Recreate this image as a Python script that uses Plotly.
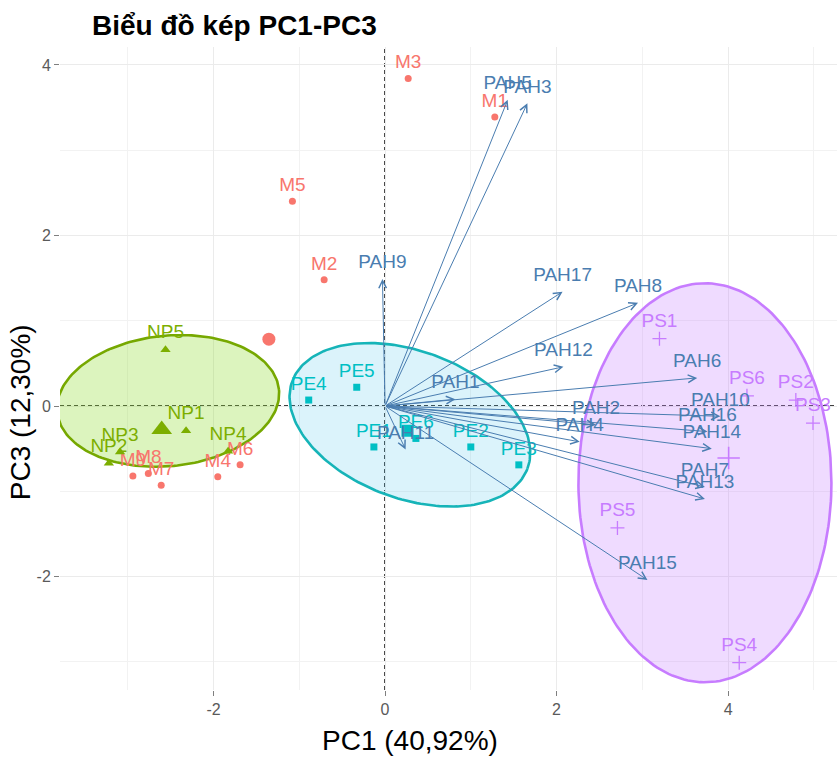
import numpy as np
import plotly.graph_objects as go

# ---------------- data ----------------
m_names = ["M1", "M2", "M3", "M4", "M5", "M6", "M7", "M8", "M9"]
m_pc1 = [1.28, -0.71, 0.27, -1.95, -1.08, -1.69, -2.61, -2.76, -2.94]
m_pc3 = [3.39, 1.48, 3.84, -0.83, 2.40, -0.69, -0.93, -0.79, -0.82]

np_names = ["NP1", "NP2", "NP3", "NP4", "NP5"]
np_pc1 = [-2.32, -3.22, -3.09, -1.83, -2.56]
np_pc3 = [-0.29, -0.67, -0.54, -0.53, 0.66]

pe_names = ["PE1", "PE2", "PE3", "PE4", "PE5", "PE6"]
pe_pc1 = [-0.13, 1.00, 1.56, -0.89, -0.33, 0.36]
pe_pc3 = [-0.48, -0.48, -0.69, 0.07, 0.22, -0.38]

ps_names = ["PS1", "PS2", "PS3", "PS4", "PS5", "PS6"]
ps_pc1 = [3.20, 4.79, 4.99, 4.13, 2.71, 4.22]
ps_pc3 = [0.79, 0.07, -0.20, -3.01, -1.43, 0.12]

pah_names = ["PAH1", "PAH2", "PAH3", "PAH4", "PAH5", "PAH6", "PAH7", "PAH8", "PAH9",
             "PAH10", "PAH11", "PAH12", "PAH13", "PAH14", "PAH15", "PAH16", "PAH17"]
pah_pc1 = [0.82, 2.46, 1.66, 2.27, 1.43, 3.64, 3.73, 2.95, -0.03,
           3.91, 0.24, 2.08, 3.73, 3.81, 3.06, 3.76, 2.07]
pah_pc3 = [0.08, -0.22, 3.55, -0.42, 3.59, 0.33, -0.95, 1.21, 1.49,
           -0.12, -0.51, 0.46, -1.09, -0.50, -2.04, -0.30, 1.34]

tick_vals = [-2, 0, 2, 4]
tick_text = ["-2", "0", "2", "4"]

# concentration ellipses (centre x, centre y, semi-axis a, semi-axis b, angle deg)
ell_groups = ["NP", "PE", "PS"]
ell_cx = [-2.53, 0.29, 3.73]
ell_cy = [0.06, -0.22, -0.90]
ell_a = [1.30, 1.464, 1.475]
ell_b = [0.765, 0.864, 2.34]
ell_ang = [5.9, -20.6, 0.0]

# ---------------- styles ----------------
colors = {"M": "#F8766D", "NP": "#7CAE00", "PE": "#00BFC4", "PS": "#C77CFF"}
line_cols = {"NP": "#76A800", "PE": "#16B4B8", "PS": "#C77CFF"}
fills = {"NP": "rgba(140,220,40,0.30)", "PE": "rgba(40,185,230,0.17)", "PS": "rgba(199,124,255,0.28)"}
symbols = {"M": "circle", "NP": "triangle-up", "PE": "square", "PS": "cross-thin"}
sizes = {"M": 7, "NP": 9, "PE": 7, "PS": 10}
mean_sizes = {"M": 13, "NP": 18, "PE": 12, "PS": 16}
arrow_col = "#4A7DB0"
FONT = "Liberation Sans, Arial, sans-serif"

groups = {
    "M": (m_names, m_pc1, m_pc3),
    "NP": (np_names, np_pc1, np_pc3),
    "PE": (pe_names, pe_pc1, pe_pc3),
    "PS": (ps_names, ps_pc1, ps_pc3),
}

fig = go.Figure()

# ellipses
t = np.linspace(0, 2 * np.pi, 200)
for g, cx, cy, a, b, ang in zip(ell_groups, ell_cx, ell_cy, ell_a, ell_b, ell_ang):
    th = np.deg2rad(ang)
    ex = cx + a * np.cos(t) * np.cos(th) - b * np.sin(t) * np.sin(th)
    ey = cy + a * np.cos(t) * np.sin(th) + b * np.sin(t) * np.cos(th)
    fig.add_trace(go.Scatter(x=ex, y=ey, mode="lines", fill="toself",
                             fillcolor=fills[g], line=dict(color=line_cols[g], width=2.6),
                             hoverinfo="skip", showlegend=False))

# individuals
for g, (names, xs, ys) in groups.items():
    mk = dict(color=colors[g], size=sizes[g], symbol=symbols[g])
    if g == "PS":
        mk["line"] = dict(color=colors[g], width=1.3)
    fig.add_trace(go.Scatter(x=xs, y=ys, mode="markers+text", text=names,
                             textposition="top center",
                             textfont=dict(family=FONT, size=19, color=colors[g]),
                             marker=mk, showlegend=False, cliponaxis=False))
    mmk = dict(color=colors[g], size=mean_sizes[g], symbol=symbols[g])
    if g == "PS":
        mmk["line"] = dict(color=colors[g], width=1.6)
    fig.add_trace(go.Scatter(x=[float(np.mean(xs))], y=[float(np.mean(ys))], mode="markers",
                             marker=mmk, showlegend=False))

# variable arrows
for px, py in zip(pah_pc1, pah_pc3):
    fig.add_annotation(x=px, y=py, ax=0, ay=0, xref="x", yref="y", axref="x", ayref="y",
                       text="", showarrow=True, arrowhead=5, arrowsize=1.5,
                       arrowwidth=1, arrowcolor=arrow_col, standoff=0)

fig.add_trace(go.Scatter(x=pah_pc1, y=pah_pc3, mode="markers+text", text=pah_names,
                         textposition="top center",
                         textfont=dict(family=FONT, size=19, color=arrow_col),
                         marker=dict(size=8, opacity=0), showlegend=False, cliponaxis=False))

# dashed zero lines
fig.add_shape(type="line", x0=0, x1=0, y0=0, y1=1, xref="x", yref="paper",
              line=dict(color="black", width=1.5, dash="4px,3px"), layer="below")
fig.add_shape(type="line", x0=0, x1=1, y0=0, y1=0, xref="paper", yref="y",
              line=dict(color="black", width=1.5, dash="4px,3px"), layer="below")

axis_common = dict(tickmode="array", tickvals=tick_vals, ticktext=tick_text,
                   showgrid=True, gridcolor="#EBEBEB", gridwidth=1,
                   zeroline=False, showline=False, ticks="outside", ticklen=5,
                   tickcolor="#7F7F7F", tickfont=dict(family=FONT, size=16, color="#5A5A5A"),
                   minor=dict(tickmode="linear", tick0=1, dtick=2, showgrid=True,
                              gridcolor="#F2F2F2", gridwidth=0.6))

fig.update_xaxes(range=[-3.79, 5.27], **axis_common)
fig.update_yaxes(range=[-3.33, 4.21], **axis_common)

fig.add_annotation(text="<b>Biểu đồ kép PC1-PC3</b>", xref="paper", yref="paper",
                   x=0.0386, y=1.034, xanchor="left", yanchor="middle", showarrow=False,
                   font=dict(family=FONT, size=28, color="black"))
fig.add_annotation(text="PC1 (40,92%)", xref="paper", yref="paper",
                   x=0.45, y=-0.078, xanchor="center", yanchor="middle", showarrow=False,
                   font=dict(family=FONT, size=28, color="black"))
fig.add_annotation(text="PC3 (12,30%)", xref="paper", yref="paper",
                   x=-0.0515, y=0.432, xanchor="center", yanchor="middle", showarrow=False,
                   textangle=-90, font=dict(family=FONT, size=28, color="black"))

fig.update_layout(width=837, height=758, margin=dict(l=60, r=0, t=47, b=68),
                  plot_bgcolor="white", paper_bgcolor="white", showlegend=False)

fig.write_html("out.html")
